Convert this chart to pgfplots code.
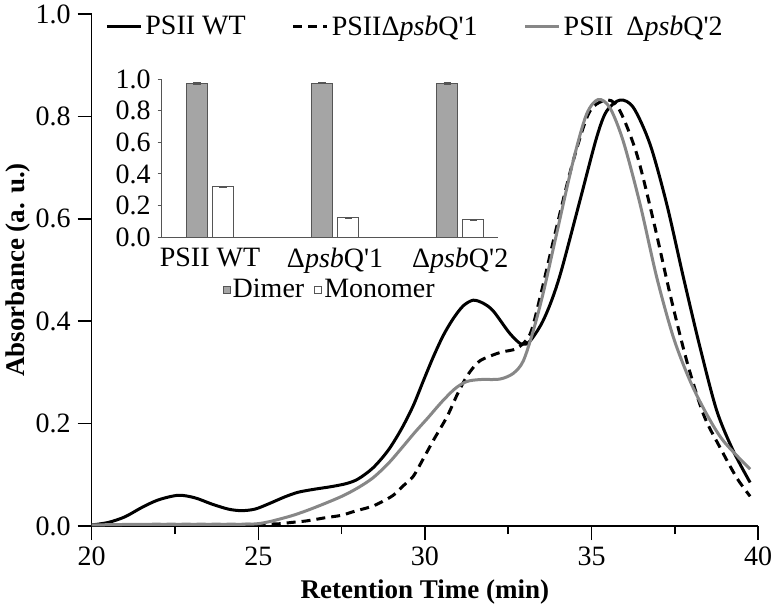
\documentclass[border=0pt]{standalone}
\usepackage{pgfplots}
\pgfplotsset{compat=1.18}
\usepackage{fontspec}
\setmainfont{Liberation Serif}
\definecolor{curvegray}{RGB}{135,135,135}
\definecolor{dimerfill}{RGB}{165,165,165}
\definecolor{bardraw}{RGB}{85,85,85}

\begin{document}
\begin{tikzpicture}
\begin{axis}[
  name=main,
  width=333.2pt, height=256pt, scale only axis,
  xmin=20, xmax=40, ymin=0, ymax=1,
  axis lines*=left,
  axis line style={line width=0.8pt},
  xtick={20,25,30,35,40},
  xticklabels={20,25,30,35,40},
  minor xtick={22.5,27.5,32.5,37.5},
  ytick={0,0.2,0.4,0.6,0.8,1},
  yticklabels={0.0,0.2,0.4,0.6,0.8,1.0},
  tick align=outside,
  major tick length=7pt, minor tick length=4pt,
  tick style={line width=0.8pt, black},
  ticklabel style={font=\fontsize{14}{16}\selectfont},
  xlabel={\textbf{Retention Time (min)}},
  ylabel={\textbf{Absorbance (a. u.)}},
  label style={font=\fontsize{13.5}{15}\selectfont},
  xlabel style={at={(axis description cs:0.5,-0.129)}, anchor=center},
  ylabel style={at={(axis description cs:-0.11,0.5)}, anchor=center},
  legend style={at={(axis description cs:0.02,0.975)}, anchor=west, draw=none, fill=none,
    inner sep=0pt, legend columns=3, font=\fontsize{14}{16}\selectfont,
    nodes={inner sep=1.5pt},
    /tikz/every even column/.append style={column sep=21.5pt},
    /tikz/column 4/.append style={column sep=25.5pt}},
  legend image code/.code={\draw[#1] (0pt,0pt) -- (17pt,0pt);},
]
% PSII WT
\addplot[black, line width=1.5pt, smooth, tension=0.5] coordinates {
(20.0,0.002) (20.5,0.007) (21.0,0.018) (21.5,0.036) (22.0,0.051) (22.6,0.060)
(23.1,0.055) (23.6,0.043) (24.1,0.033) (24.5,0.030) (24.9,0.033) (25.3,0.043)
(25.8,0.057) (26.2,0.066) (26.7,0.072) (27.2,0.077) (27.65,0.083) (28.0,0.092)
(28.45,0.114) (28.9,0.148) (29.3,0.19) (29.65,0.235) (29.95,0.283) (30.25,0.33)
(30.55,0.372) (30.85,0.405) (31.15,0.430) (31.45,0.441) (31.75,0.435) (32.05,0.42)
(32.55,0.376) (32.9,0.355) (33.15,0.361) (33.5,0.395) (33.8,0.44) (34.1,0.50)
(34.65,0.635) (35.15,0.758) (35.45,0.81) (35.86,0.832) (36.26,0.817) (36.76,0.745)
(37.26,0.628) (37.76,0.485) (38.26,0.348) (38.76,0.225) (39.26,0.146) (39.76,0.085)
};
% PSII dpsbQ'1
\addplot[black, line width=1.5pt, dash pattern=on 4.5pt off 3pt, smooth, tension=0.5] coordinates {
(20.0,0.002) (22.0,0.003) (24.0,0.003) (25.5,0.004) (26.0,0.007) (26.45,0.010)
(27.0,0.016) (27.5,0.021) (27.9,0.029) (28.4,0.038) (28.7,0.047) (29.05,0.06)
(29.34,0.078) (29.65,0.097) (29.94,0.13) (30.26,0.168) (30.66,0.213) (30.95,0.254)
(31.16,0.281) (31.35,0.301) (31.66,0.323) (32.26,0.339) (32.76,0.347) (33.15,0.374)
(33.45,0.445) (33.95,0.583) (34.45,0.713) (34.95,0.81) (35.5,0.832) (35.86,0.81)
(36.36,0.726) (36.86,0.596) (37.36,0.452) (37.86,0.322) (38.36,0.218) (38.86,0.153)
(39.36,0.094) (39.76,0.058)
};
% PSII dpsbQ'2
\addplot[curvegray, line width=1.5pt, smooth, tension=0.5] coordinates {
(20.0,0.002) (21.0,0.003) (22.0,0.003) (23.0,0.003) (24.0,0.003) (24.9,0.004)
(25.3,0.008) (25.55,0.012) (26.0,0.02) (26.45,0.03) (27.0,0.044) (27.54,0.059)
(28.0,0.075) (28.44,0.094) (28.9,0.122) (29.3,0.152) (29.7,0.183) (30.1,0.212)
(30.5,0.242) (30.9,0.268) (31.25,0.282) (31.65,0.286) (32.25,0.287) (32.65,0.298)
(32.95,0.322) (33.25,0.381) (33.55,0.455) (33.95,0.57) (34.45,0.713) (34.85,0.804)
(35.2,0.833) (35.55,0.817) (35.95,0.752) (36.46,0.628) (36.96,0.485) (37.46,0.368)
(37.96,0.283) (38.46,0.218) (38.96,0.166) (39.76,0.111)
};
\legend{PSII WT, PSIIΔ\textit{psb}Q\textquotesingle 1, PSII\hspace{3pt} Δ\textit{psb}Q\textquotesingle 2}
\end{axis}

% inset bar chart
\begin{axis}[
  at={(main.south west)}, anchor=south west, xshift=35pt, yshift=144.4pt,
  width=168pt, height=79pt, scale only axis,
  xmin=-0.386, xmax=2.3, ymin=0, ymax=1,
  axis lines*=left,
  axis line style={bardraw, line width=0.6pt},
  ybar=2.8pt, bar width=10.25pt,
  xtick={0,1,2},
  xticklabels={PSII WT, Δ\textit{psb}Q\textquotesingle 1, Δ\textit{psb}Q\textquotesingle 2},
  xtick style={draw=none},
  ytick={0,0.2,0.4,0.6,0.8,1},
  yticklabels={0.0,0.2,0.4,0.6,0.8,1.0},
  ytick style={bardraw, line width=0.5pt},
  tick align=outside, major tick length=2pt,
  ticklabel style={font=\fontsize{14}{16}\selectfont},
  legend style={at={(0.5,-0.335)}, anchor=center, draw=none, fill=none,
    legend columns=2, font=\fontsize{14}{16}\selectfont,
    nodes={inner sep=1pt},
    /tikz/every even column/.append style={column sep=4pt}},
  legend image code/.code={\draw[#1] (0pt,-1.75pt) rectangle (3.5pt,1.75pt);},
]
\addplot[fill=dimerfill, draw=bardraw, line width=0.5pt,
  error bars/.cd, y dir=both, y explicit,
  error bar style={bardraw, line width=0.4pt},
  error mark=-, error mark options={rotate=90, bardraw, mark size=1.8pt}]
  coordinates {(0,0.975) +- (0,0.005) (1,0.975) +- (0,0.002) (2,0.975) +- (0,0.005)};
\addplot[fill=white, draw=bardraw, line width=0.5pt,
  error bars/.cd, y dir=both, y explicit,
  error bar style={bardraw, line width=0.4pt},
  error mark=-, error mark options={rotate=90, bardraw, mark size=1.8pt}]
  coordinates {(0,0.32) +- (0,0.003) (1,0.124) +- (0,0.002) (2,0.11) +- (0,0.002)};
\legend{Dimer, Monomer}
\end{axis}

\pgfresetboundingbox
\path[use as bounding box] ([xshift=-45.85pt,yshift=-42pt]main.south west) rectangle ++(387pt,305pt);
\end{tikzpicture}
\end{document}
